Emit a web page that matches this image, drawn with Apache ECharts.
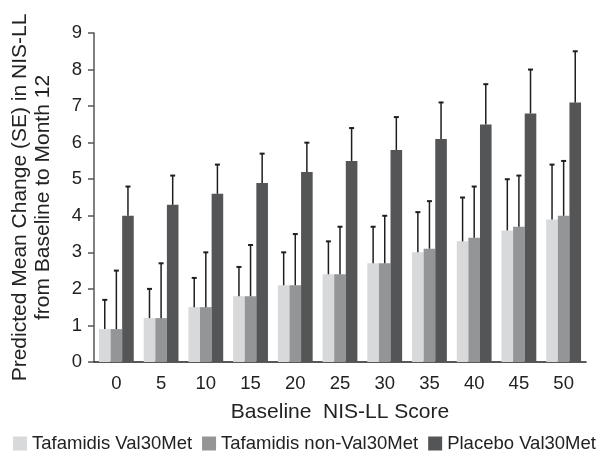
<!DOCTYPE html>
<html><head><meta charset="utf-8">
<script src="https://cdn.jsdelivr.net/npm/echarts@6/dist/echarts.min.js"></script>
<style>html,body{margin:0;padding:0;background:#fff}#c{width:601px;height:461px}</style>
</head><body><div id="c"></div>
<script>
var categories = ['0','5','10','15','20','25','30','35','40','45','50'];
var seriesNames = ['Tafamidis Val30Met','Tafamidis non-Val30Met','Placebo Val30Met'];
var val30Met = [0.9,1.2,1.5,1.8,2.1,2.4,2.7,3.0,3.3,3.6,3.9];
var nonVal30Met = [0.9,1.2,1.5,1.8,2.1,2.4,2.7,3.1,3.4,3.7,4.0];
var placebo = [4.0,4.3,4.6,4.9,5.2,5.5,5.8,6.1,6.5,6.8,7.1];
var val30MetUpper = [1.7,2.0,2.3,2.6,3.0,3.3,3.7,4.1,4.5,5.0,5.4];
var nonVal30MetUpper = [2.5,2.7,3.0,3.2,3.5,3.7,4.0,4.4,4.8,5.1,5.5];
var placeboUpper = [4.8,5.1,5.4,5.7,6.0,6.4,6.7,7.1,7.6,8.0,8.5];
var yTicks = [0,1,2,3,4,5,6,7,8,9];

var colors = ['#d8d9db','#949597','#545557'];
var values = [val30Met, nonVal30Met, placebo];
var uppers = [val30MetUpper, nonVal30MetUpper, placeboUpper];
var BAR_W = 11.6;
var FS = 18.5;
var NFS = 21;

var chart = echarts.init(document.getElementById('c'), null, {renderer:'canvas'});
var series = [];
values.forEach(function(v, i){
  series.push({
    name: seriesNames[i], type:'bar', data:v, barWidth:BAR_W, barGap:'0%',
    itemStyle:{color:colors[i]}, z:2
  });
});
uppers.forEach(function(u, i){
  var data = u.map(function(t, k){ return [k, t, values[i][k]]; });
  series.push({
    type:'custom', name:'err'+i, z:5, silent:true,
    encode:{x:0, y:1},
    data:data,
    renderItem:function(params, api){
      var top = api.coord([api.value(0), api.value(1)]);
      var base = api.coord([api.value(0), api.value(2)]);
      var x = top[0] + (i-1)*BAR_W;
      var style = {stroke:'#1e1e1e', lineWidth:1.5};
      return {type:'group', children:[
        {type:'line', shape:{x1:x, y1:base[1], x2:x, y2:top[1]}, style:style},
        {type:'line', shape:{x1:x-2.5, y1:top[1], x2:x+2.5, y2:top[1]}, style:{stroke:'#1e1e1e', lineWidth:2}}
      ]};
    }
  });
});

chart.setOption({
  animation:false,
  textStyle:{fontFamily:'Liberation Sans, Arial, sans-serif'},
  grid:{left:94, right:15, top:33, bottom:99, containLabel:false, outerBoundsMode:'none'},
  legend:{
    data:seriesNames, left:8, bottom:3, itemWidth:14, itemHeight:14, itemGap:10,
    icon:'rect',
    textStyle:{fontSize:FS, color:'#222', padding:[0,0,0,0]}
  },
  xAxis:{
    type:'category', data:categories,
    name:'Baseline  NIS-LL Score', nameLocation:'middle', nameGap:40,
    nameTextStyle:{fontSize:NFS, color:'#222'},
    axisLine:{lineStyle:{color:'#222', width:1.5}},
    axisTick:{alignWithLabel:true, length:6, lineStyle:{color:'#222', width:1.5}},
    axisLabel:{fontSize:FS, color:'#222', margin:12}
  },
  yAxis:{
    type:'value', min:0, max:9, interval:1,
    name:'Predicted Mean Change (SE) in NIS-LL\nfrom Baseline to Month 12',
    nameLocation:'middle', nameGap:39,
    nameTextStyle:{fontSize:NFS, color:'#222', lineHeight:23.5},
    axisLine:{show:true, lineStyle:{color:'#555', width:1.5}},
    axisTick:{show:true, length:6, lineStyle:{color:'#555', width:1.5}},
    axisLabel:{fontSize:FS, color:'#222', margin:12},
    splitLine:{show:false}
  },
  series:series
});
</script></body></html>
